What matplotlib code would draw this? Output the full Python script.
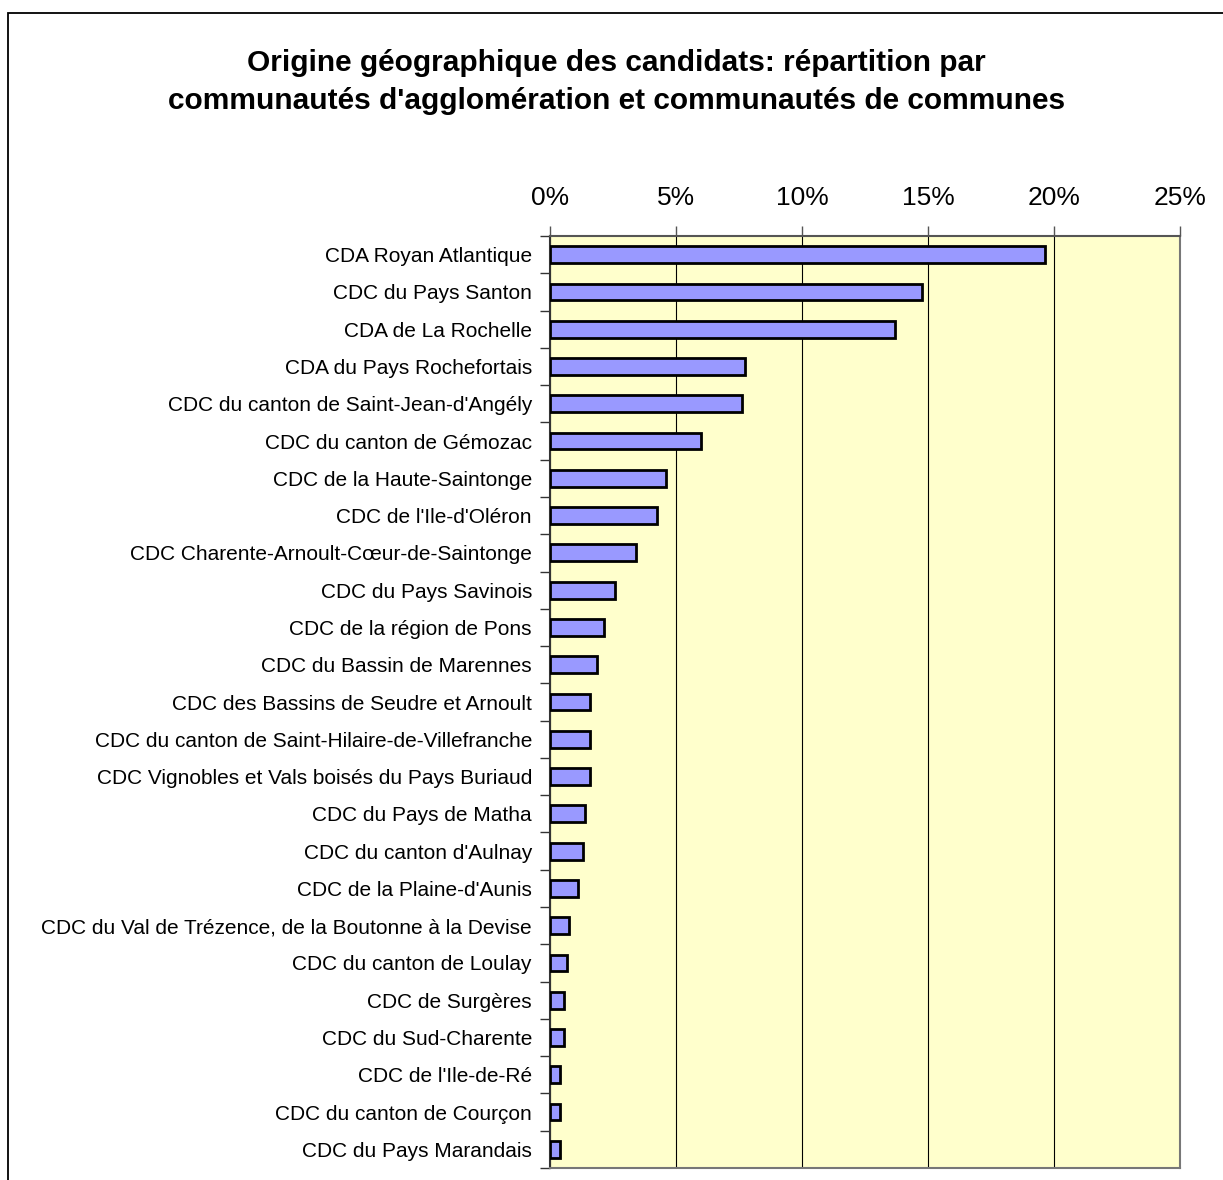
import matplotlib
matplotlib.use("Agg")
import matplotlib.pyplot as plt
from matplotlib.patches import Rectangle
from matplotlib.ticker import FixedLocator, PercentFormatter

categories = [
    "CDA Royan Atlantique",
    "CDC du Pays Santon",
    "CDA de La Rochelle",
    "CDA du Pays Rochefortais",
    "CDC du canton de Saint-Jean-d'Angély",
    "CDC du canton de Gémozac",
    "CDC de la Haute-Saintonge",
    "CDC de l'Ile-d'Oléron",
    "CDC Charente-Arnoult-Cœur-de-Saintonge",
    "CDC du Pays Savinois",
    "CDC de la région de Pons",
    "CDC du Bassin de Marennes",
    "CDC des Bassins de Seudre et Arnoult",
    "CDC du canton de Saint-Hilaire-de-Villefranche",
    "CDC Vignobles et Vals boisés du Pays Buriaud",
    "CDC du Pays de Matha",
    "CDC du canton d'Aulnay",
    "CDC de la Plaine-d'Aunis",
    "CDC du Val de Trézence, de la Boutonne à la Devise",
    "CDC du canton de Loulay",
    "CDC de Surgères",
    "CDC du Sud-Charente",
    "CDC de l'Ile-de-Ré",
    "CDC du canton de Courçon",
    "CDC du Pays Marandais",
]
values = [19.64, 14.78, 13.69, 7.74, 7.62, 5.99, 4.62, 4.23, 3.41, 2.59,
          2.13, 1.87, 1.59, 1.59, 1.59, 1.38, 1.30, 1.12, 0.77, 0.66,
          0.57, 0.57, 0.38, 0.38, 0.38]
xticks = [0, 5, 10, 15, 20, 25]
title = ("Origine géographique des candidats: répartition par\n"
         "communautés d'agglomération et communautés de communes")

plt.rcParams['font.family'] = ['Liberation Sans', 'DejaVu Sans']

fig = plt.figure(figsize=(12.23, 11.8), dpi=100)
W, H = 1223, 1180
ax = fig.add_axes([550 / W, 1 - 1168 / H, (1180 - 550) / W, (1168 - 236) / H])
ax.set_facecolor("#FFFFCC")

n = len(categories)
ypos = list(range(n))
ax.barh(ypos, values, height=0.45, color="#9999FF", edgecolor="black",
        linewidth=2, zorder=3)
ax.set_ylim(n - 0.5, -0.5)
ax.set_xlim(0, 25)

ax.xaxis.set_ticks_position("top")
ax.set_xticks(xticks)
ax.xaxis.set_major_formatter(PercentFormatter(decimals=0))
ax.tick_params(axis="x", which="major", length=7, width=1, color="#555555",
               labelsize=19, pad=12)
ax.grid(axis="x", color="black", linewidth=0.8, zorder=1)

ax.set_yticks(ypos)
ax.set_yticklabels(categories)
ax.tick_params(axis="y", which="major", length=0, labelsize=15, pad=13)
ax.yaxis.set_minor_locator(FixedLocator([i - 0.5 for i in range(n + 1)]))
ax.tick_params(axis="y", which="minor", length=7, width=1, color="#333333")

for s in ax.spines.values():
    s.set_color("#777777")
    s.set_linewidth(1.5)
ax.spines["left"].set_color("#333333")
ax.spines["top"].set_color("#555555")

fig.text(0.5 * (1223 + 10) / W, 1 - 82 / H, title, ha="center", va="center",
         fontsize=21.5, fontweight="bold", linespacing=1.45)

fig.patches.append(Rectangle((8 / W, -0.1), 1.2, 1 - 13 / H + 0.1,
                             transform=fig.transFigure, fill=False,
                             edgecolor="black", linewidth=1.3))

fig.savefig("out.png", dpi=100)
